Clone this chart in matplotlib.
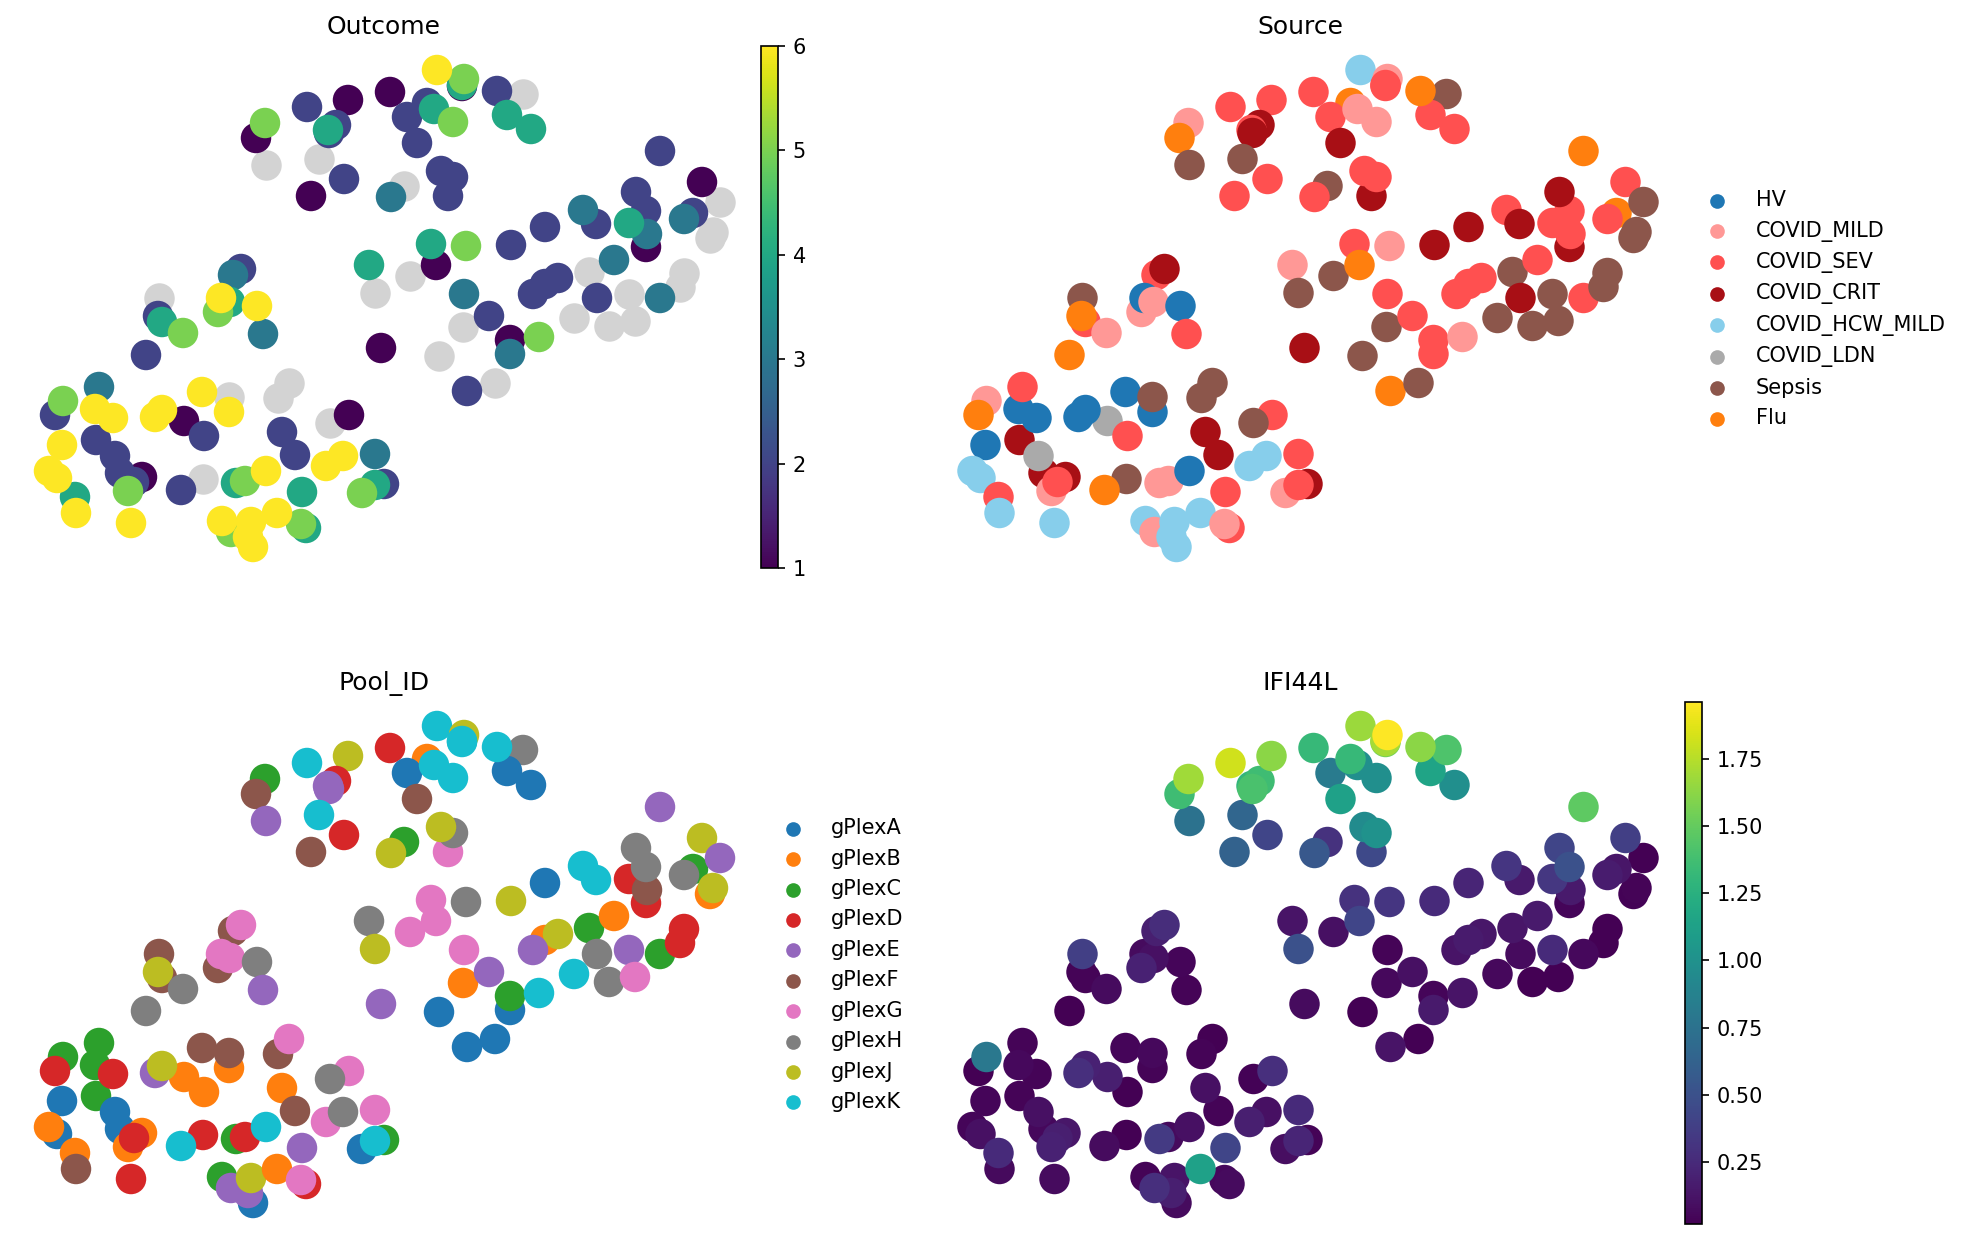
import numpy as np
import matplotlib
matplotlib.use("Agg")
import matplotlib.pyplot as plt

nan = float("nan")

# embedding coordinates, one entry per sample, in plotting order
umap_x = [265, 256, 266, 307, 348, 336, 328, 329, 319, 344, 311, 390, 427, 407, 434, 453, 417, 437, 464, 462,
          462, 523, 507, 497, 531, 448, 453, 441, 404, 391,
          660, 702, 693, 720, 684, 710, 713, 646, 629, 647, 646, 636, 583, 596, 545, 511, 466, 431, 369, 375,
          410, 436, 464, 463, 489, 510, 510, 539, 439, 381, 467, 495, 589, 614, 545, 558, 533, 629, 597, 609,
          635, 574, 660, 684, 680,
          233, 241, 218, 221, 230, 257, 263, 159, 162, 158, 183, 146,
          63, 55, 95, 99, 96, 113, 62, 120, 115, 142, 128, 134, 57, 49, 75, 76, 131,
          155, 184, 162, 204, 202, 229, 229, 278, 289, 282, 295, 349, 330, 326, 343, 375, 384, 362, 375, 302,
          203, 181, 236, 245, 266, 222, 231, 253, 248, 251, 277, 306, 301]
umap_y = [123, 138, 165, 107, 100, 125, 130, 133, 159, 179, 196, 92, 103, 117, 109, 122, 143, 70, 79, 86,
          85, 94, 115, 91, 129, 196, 177, 171, 186, 197,
          151, 182, 213, 202, 219, 238, 232, 247, 223, 234, 211, 192, 210, 224, 227, 245, 246, 244, 265, 293,
          276, 265, 294, 327, 316, 354, 340, 337, 356, 348, 391, 383, 272, 260, 284, 278, 294, 294, 298, 326,
          321, 318, 298, 273, 287,
          275, 269, 312, 298, 302, 306, 334, 298, 322, 316, 333, 355,
          401, 415, 409, 387, 440, 418, 445, 473, 456, 477, 491, 482, 478, 471, 497, 513, 523,
          417, 421, 410, 436, 392, 412, 397, 398, 383, 432, 455, 415, 423, 466, 456, 454, 484, 493, 485, 492,
          479, 490, 483, 481, 471, 521, 532, 547, 537, 522, 513, 528, 524]

outcome = [5, 1, nan, 2, 1, 2, 4, 2, nan, 2, 1, 1, 2, 2, 4, 5, 2, 6, 5, 1,
           4, nan, 4, 2, 4, 2, 2, 2, nan, 3,
           2, 1, 2, nan, 3, nan, nan, 1, 4, 3, 2, 2, 3, 2, 2, 2, 5, 4, 4, nan,
           nan, 1, 3, nan, 2, 3, 1, 5, nan, 1, 2, nan, nan, 3, 2, 2, 2, nan, 2, nan,
           nan, nan, 3, nan, nan,
           3, 2, 5, 6, 4, 6, 3, nan, 4, 2, 5, 2,
           5, 2, 6, 3, 2, 6, 6, 2, 2, 1, 5, 2, 6, 6, 4, 6, 6,
           6, 1, 6, 2, 6, 6, nan, nan, nan, 2, 2, 1, nan, 6, 6, 3, 2, 5, 4, 4,
           nan, 2, 4, 5, 6, 6, 5, 6, 6, 6, 6, 4, 5]

source_names = ["HV", "COVID_MILD", "COVID_SEV", "COVID_CRIT", "COVID_HCW_MILD", "COVID_LDN", "Sepsis", "Flu"]
source_codes = [1, 7, 6, 2, 2, 3, 2, 3, 6, 2, 2, 2, 7, 2, 1, 1, 3, 4, 1, 2,
                2, 6, 2, 7, 2, 3, 2, 2, 6, 2,
                7, 2, 7, 6, 2, 6, 6, 3, 2, 2, 2, 3, 2, 3, 3, 3, 1, 2, 1, 6,
                6, 7, 2, 6, 2, 2, 2, 1, 6, 3, 7, 6, 6, 2, 2, 2, 2, 6, 3, 6,
                6, 6, 2, 6, 6,
                2, 3, 1, 0, 1, 0, 2, 6, 2, 7, 1, 7,
                1, 7, 0, 2, 3, 0, 0, 3, 5, 3, 1, 2, 4, 4, 2, 4, 4,
                0, 5, 0, 2, 0, 0, 6, 6, 6, 3, 3, 2, 6, 4, 4, 2, 3, 1, 2, 2,
                6, 7, 1, 1, 0, 4, 1, 4, 4, 4, 4, 2, 1]
source_colors = ["#1f77b4", "#ff9896", "#ff5050", "#a80f15", "#87ceeb", "#aaaaaa", "#8c564b", "#ff7f0e"]

pool_names = ["gPlexA", "gPlexB", "gPlexC", "gPlexD", "gPlexE", "gPlexF", "gPlexG", "gPlexH", "gPlexJ", "gPlexK"]
pool_ids = list("CFEKJDEEKDFDBAKKFKJK" "KHAKAGHJCJ"
                "EJCEHBJDDFHHKKAJHGHJ" "GGGBEACKAEAACBBJEEHH" "GKCDD"
                "FGFGGHEFFJHH"
                "CDCCCDAAABBDABBFD"
                "EBJBFBFFGBFGHGHGCAKE" "DKCDKCEAEJBDG")

ifi44l = [1.68, 1.36, 0.75, 1.82, 1.62, 1.36, 1.30, 1.40, 0.65, 0.42, 0.62, 1.32, 1.32, 0.82, 0.98, 0.98, 1.12, 1.67, 1.96, 1.55,
          1.70, 1.42, 1.15, 1.62, 0.98, 0.45, 1.00, 0.95, 0.30, 0.55,
          1.48, 0.38, 0.13, 0.02, 0.17, 0.03, 0.04, 0.05, 0.33, 0.15, 0.50, 0.42, 0.32, 0.15, 0.22, 0.25, 0.32, 0.30, 0.12, 0.50,
          0.10, 0.42, 0.04, 0.06, 0.10, 0.15, 0.05, 0.12, 0.02, 0.08, 0.12, 0.02, 0.13, 0.15, 0.16, 0.14, 0.12, 0.25, 0.08, 0.02,
          0.02, 0.06, 0.06, 0.02, 0.02,
          0.18, 0.27, 0.20, 0.08, 0.10, 0.05, 0.04, 0.38, 0.04, 0.04, 0.08, 0.02,
          0.80, 0.02, 0.06, 0.04, 0.04, 0.04, 0.05, 0.06, 0.10, 0.14, 0.20, 0.18, 0.10, 0.05, 0.25, 0.07, 0.08,
          0.28, 0.18, 0.20, 0.02, 0.05, 0.04, 0.06, 0.04, 0.02, 0.10, 0.04, 0.28, 0.03, 0.18, 0.10, 0.25, 0.04, 0.09, 0.22, 0.42,
          0.02, 0.08, 0.35, 0.07, 0.10, 0.04, 0.28, 0.08, 0.18, 0.12, 1.12, 0.08, 0.06]

outcome_ticks = [1, 2, 3, 4, 5, 6]
ifi_ticks = [0.25, 0.50, 0.75, 1.00, 1.25, 1.50, 1.75]

W, H = 1968, 1242
DPI = 150
DOT = 214


def panel(left, top, shift, title):
    # axes placed in figure pixels; shift keeps the samples aligned between columns
    ax = plt.gcf().add_axes([left / W, 1 - (top + 522) / H, 740 / W, 522 / H])
    ax.set_xlim(14 + shift, 754 + shift)
    ax.set_ylim(568, 46)
    ax.set_axis_off()
    ax.set_title(title, fontsize=12)
    return ax


def draw_continuous(ax, values, vmin, vmax, ticks, cbar_left, cbar_top):
    xs = np.array(umap_x)
    ys = np.array(umap_y)
    vals = np.array(values, dtype=float)
    # missing values go underneath, high values on top
    missing = np.isnan(vals)
    ax.scatter(xs[missing], ys[missing], s=DOT, c="lightgray", linewidths=0)
    order = np.argsort(vals[~missing], kind="stable")
    sc = ax.scatter(xs[~missing][order], ys[~missing][order], s=DOT, c=vals[~missing][order],
                    cmap="viridis", vmin=vmin, vmax=vmax, linewidths=0)
    cax = plt.gcf().add_axes([cbar_left / W, 1 - (cbar_top + 522) / H, 17 / W, 522 / H])
    cb = plt.colorbar(sc, cax=cax, ticks=ticks)
    return cb


def draw_categorical(ax, colors, names, palette, legend_x):
    ax.scatter(umap_x, umap_y, s=DOT, c=colors, linewidths=0)
    for name, color in zip(names, palette):
        ax.scatter([], [], s=DOT, c=color, linewidths=0, label=name)
    ax.legend(frameon=False, loc="center left", bbox_to_anchor=(legend_x, 0.496), fontsize=10,
              markerscale=0.48, handletextpad=0.86, borderaxespad=0)


fig = plt.figure(figsize=(W / DPI, H / DPI), dpi=DPI)

ax = panel(14, 46, 0, "Outcome")
draw_continuous(ax, outcome, 1, 6, outcome_ticks, 761, 46)

ax = panel(930, 46, -7.5, "Source")
draw_categorical(ax, [source_colors[c] for c in source_codes], source_names, source_colors, 1.0245)

ax = panel(14, 702, 0, "Pool_ID")
pool_colors = [plt.cm.tab10(i) for i in range(len(pool_names))]
draw_categorical(ax, [pool_colors[pool_names.index("gPlex" + p)] for p in pool_ids], pool_names, pool_colors, 1.0127)

ax = panel(930, 702, -7.5, "IFI44L")
draw_continuous(ax, ifi44l, 0.02, 1.96, ifi_ticks, 1685, 702)

fig.savefig("out.png", dpi=DPI)
